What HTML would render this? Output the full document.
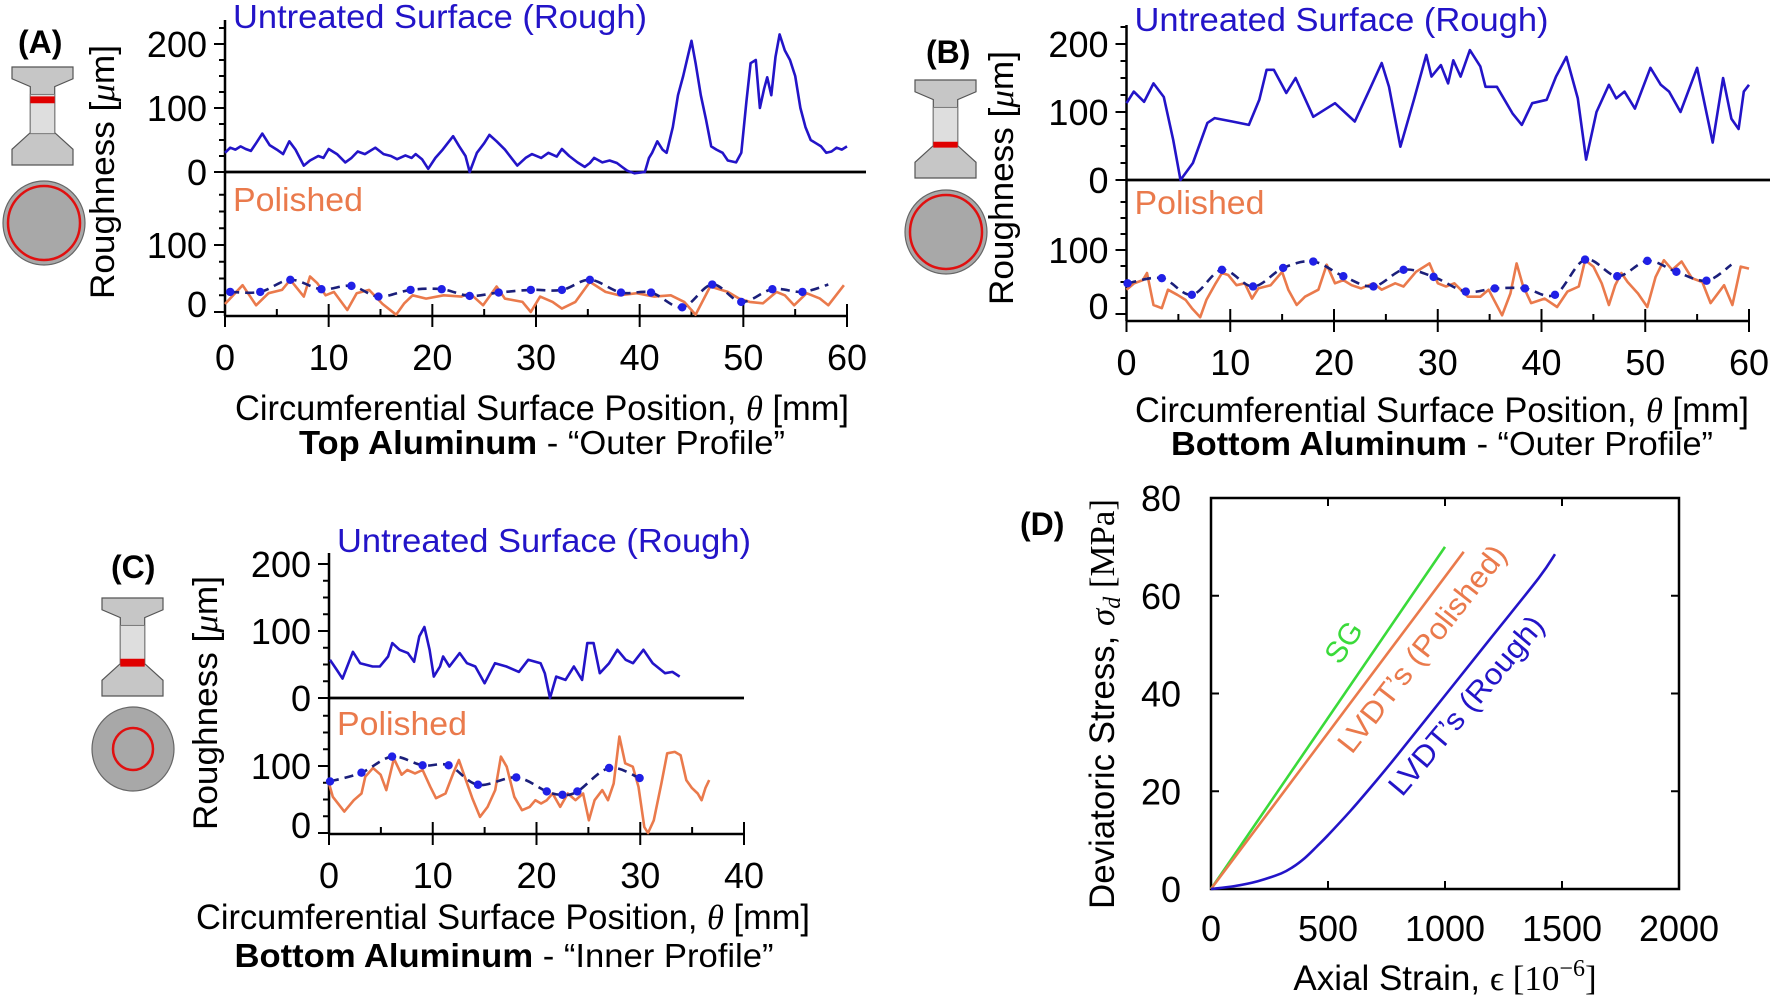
<!DOCTYPE html>
<html><head><meta charset="utf-8">
<style>
html,body{margin:0;padding:0;background:#fff;}
svg{display:block;font-family:"Liberation Sans",Arial,sans-serif;}
</style></head>
<body>
<svg id="fig" width="1770" height="1003" viewBox="0 0 1770 1003" xmlns="http://www.w3.org/2000/svg"></svg>
<script>
// ---------------- DATA ----------------
const xTicks60 = [0,10,20,30,40,50,60];
const xTicks40 = [0,10,20,30,40];
const upperTicks = [0,100,200];
const lowerTicks = [0,100];
const strainTicks = [0,500,1000,1500,2000];
const stressTicks = [0,20,40,60,80];

// Panel A
const aRoughPos = [0,0.5,1,1.5,2,2.5,3,3.6,4.3,5,5.6,6.2,6.8,7.6,8.2,9,9.5,10,10.8,11.6,12.2,12.8,13.5,14.5,15.3,16,16.6,17.4,18,18.4,19,19.6,20.3,21,22,22.6,23.2,23.6,24.3,25,25.5,26.2,27,28.2,29,29.6,30.5,31.2,32,32.5,33.2,34,34.7,35.2,35.6,36.4,37.1,37.8,38.3,38.8,39.5,40.5,40.9,41.2,41.7,42.2,42.6,43.2,43.7,44.2,44.6,45,45.4,45.9,46.4,46.9,47.4,48,48.5,49.3,49.8,50.3,50.7,51.2,51.6,52,52.3,52.7,53.1,53.5,54,54.5,55,55.5,56,56.5,57,57.5,58,58.5,59,59.5,60];
const aRoughVal = [30,38,35,40,36,33,45,60,42,35,28,48,35,10,18,25,22,36,28,15,22,32,28,38,28,25,20,26,22,28,20,5,22,35,56,40,25,0,30,45,58,48,35,10,22,28,22,30,24,36,25,15,8,14,22,15,18,14,8,2,-2,0,22,30,48,35,30,70,120,150,178,205,170,120,82,40,35,30,18,15,30,110,170,175,100,130,148,120,180,215,190,175,150,100,70,50,45,40,30,32,38,35,40];
const aPolPos = [0,1.7,3.0,4.2,5.5,6.3,7.6,8.2,8.9,9.7,10.5,11.8,12.7,13.9,15.2,16.5,17.3,18.1,19.4,21.1,22.8,23.6,24.9,26.2,27,28.7,29.5,30.4,31.6,32.5,33.8,35.2,36.7,38,39.7,41.4,43,44.3,45.4,46.8,48.5,49.6,50.6,51.9,53.2,54,54.9,56.1,57.4,58.2,59.7];
const aPolVal = [12,40,10,28,33,48,23,53,43,25,30,3,28,33,12,-4,13,25,20,25,23,28,10,38,20,15,0,23,15,5,15,45,30,25,28,23,25,15,-4,38,30,20,15,13,30,25,10,28,20,10,40];
const aAvgPos = [0.5,3.4,6.3,9.3,12.2,14.8,17.9,20.9,23.6,26.4,29.5,32.5,35.2,38.2,41.1,44.1,47,49.8,52.8,55.7,58.2];
const aAvgVal = [30,30,48,34,39,23,33,34,24,29,33,33,48,29,29,7,41,15,34,30,41];

// Panel B
const bRoughPos = [0,0.7,1.7,2.6,3.6,4.5,5.2,6.4,7.8,8.5,10.2,11.8,12.8,13.5,14.2,15.4,16.3,18.0,20.1,22.0,23.4,24.6,25.3,26.4,27.7,28.9,29.4,30.3,31.0,31.5,32.2,33.1,34.1,34.6,35.7,37.2,38.1,39.1,40.5,41.4,42.4,43.5,44.3,45.3,46.5,47.2,48,49,50.5,51.5,52.3,53.4,55,56.5,57.5,58.3,59,59.5,60];
const bRoughVal = [113,130,115,142,122,59,0,25,84,91,86,81,118,162,162,128,150,93,113,86,132,172,137,49,118,184,152,169,142,176,152,191,167,137,137,98,81,113,118,152,181,120,30,100,140,120,130,105,165,140,130,100,165,55,150,90,75,130,140];
const bPolPos = [0,0.74,1.57,1.98,2.6,3.4,4.0,4.9,5.7,6.3,7.1,7.7,8.6,9.2,9.8,10.6,11.4,12.1,12.7,13.9,15.0,15.6,16.4,17.2,18.5,19.3,20.1,20.9,21.7,22.6,23.8,24.6,25.9,26.7,27.9,29.2,30.0,30.8,31.6,32.9,34.1,34.9,36.2,37.0,37.6,38.2,39.0,40.3,41.5,42.5,43.6,44.2,45.0,45.8,46.5,47.1,47.7,48.3,49.3,50.2,51.0,51.8,52.6,53.5,54.5,55.5,56.3,57.6,58.4,59.2,60];
const bPolVal = [38,48,53,64,14,9,38,30,22,9,-5,22,48,64,61,45,48,24,40,45,66,38,14,27,38,77,48,53,45,40,48,38,48,43,66,79,48,43,48,27,27,38,-2,32,79,45,17,24,11,35,43,84,74,48,14,45,64,50,32,11,58,84,69,82,56,50,17,45,14,74,71];
const bAvgPos = [0.1,3.4,6.3,9.2,12.2,15.1,18.0,20.9,23.8,26.7,29.6,32.7,35.5,38.4,41.3,44.2,47.3,50.2,53.0,55.9,58.3];
const bAvgVal = [48,56,30,69,43,72,82,59,43,69,58,35,40,40,30,85,59,83,66,52,77];

// Panel C
const cRoughPos = [0.1,0.75,1.3,2.3,3.0,4.2,4.9,5.7,6.1,6.8,7.6,8.2,8.7,9.2,9.7,10.1,10.7,11.0,11.6,12.6,13.3,14.1,15.0,16.0,17.1,18.3,19.2,20.4,20.8,21.3,21.9,22.8,23.6,24.4,24.9,25.5,26.1,27.0,27.8,28.6,29.3,30.3,31.2,32.4,33.1,33.8];
const cRoughVal = [57,42,29,69,52,47,47,62,82,72,67,54,92,106,72,32,47,62,47,67,52,47,22,52,47,39,57,52,37,0,32,27,47,27,82,82,37,52,72,57,52,72,52,37,39,32];
const cPolPos = [0,0.37,1.47,2.39,3.13,3.5,4.24,4.97,5.52,6.26,7.0,7.55,8.29,9.02,9.76,10.31,11.23,11.97,12.52,13.08,13.81,14.55,15.29,16.02,16.57,17.13,17.86,18.6,19.34,19.89,20.44,20.99,21.55,22.28,23.02,23.76,24.49,25.05,25.6,26.34,26.89,27.44,27.99,28.55,29.28,29.83,30.39,30.75,31.31,32.04,32.6,33.33,33.89,34.44,34.99,35.54,35.91,36.28,36.65];
const cPolVal = [74,54,32,49,59,84,97,87,64,111,87,94,89,94,69,52,59,89,109,84,52,24,39,64,114,99,54,34,39,49,44,49,59,39,59,49,59,19,49,64,49,74,144,104,99,69,9,0,19,74,119,121,116,79,67,59,49,67,79];
const cAvgPos = [0.1,3.13,6.08,9.02,11.53,14.36,18.05,20.99,22.5,23.94,27.0,29.94];
const cAvgVal = [77,90,114,101,101,72,83,62,57,62,97,82];

// Panel D
const sgStrain = [0,1000];
const sgStress = [0,70];
const polStrain = [0,1080];
const polStress = [0,69];
const roughStrain = [0,100,200,300,350,400,450,500,600,700,800,1000,1200,1400,1470];
const roughStress = [0,0.6,1.6,3.2,4.5,6.3,8.6,11,16.2,21.8,27.6,39.6,51.6,63.6,68.5];

// ---------------- DRAWING ----------------
const NS = 'http://www.w3.org/2000/svg';
const svg = document.getElementById('fig');
function mk(tag, attrs, parent){
  const e = document.createElementNS(NS, tag);
  for (const k in attrs) e.setAttribute(k, attrs[k]);
  (parent || svg).appendChild(e);
  return e;
}
function lin(d0,d1,r0,r1){ return v => r0 + (v-d0)*(r1-r0)/(d1-d0); }

const BLUE = '#2314c8', ORANGE = '#ea7a4c', NAVY = '#1b1f7a', DOT = '#2020e6', GREEN = '#3ada3a';

function polyPath(xs, ys, sx, sy){
  let d = '';
  for (let i=0;i<xs.length;i++) d += (i?'L':'M') + sx(xs[i]).toFixed(1) + ' ' + sy(ys[i]).toFixed(1);
  return d;
}
function smoothPath(xs, ys, sx, sy){
  const P = xs.map((x,i)=>[sx(x), sy(ys[i])]);
  let d = 'M'+P[0][0].toFixed(1)+' '+P[0][1].toFixed(1);
  for (let i=0;i<P.length-1;i++){
    const p0=P[Math.max(i-1,0)], p1=P[i], p2=P[i+1], p3=P[Math.min(i+2,P.length-1)];
    const c1=[p1[0]+(p2[0]-p0[0])/6, p1[1]+(p2[1]-p0[1])/6];
    const c2=[p2[0]-(p3[0]-p1[0])/6, p2[1]-(p3[1]-p1[1])/6];
    d += 'C'+c1[0].toFixed(1)+' '+c1[1].toFixed(1)+' '+c2[0].toFixed(1)+' '+c2[1].toFixed(1)+' '+p2[0].toFixed(1)+' '+p2[1].toFixed(1);
  }
  return d;
}

function dogbone(g, x, y, w, h, b0, b1){
  const X = f => x + f*w, Y = f => y + f*h;
  const body = mk('polygon', {points:[[0,0],[1,0],[1,.12],[.7,.2],[.7,.67],[1,.84],[1,1],[0,1],[0,.84],[.3,.67],[.3,.2],[0,.12]].map(p=>X(p[0])+','+Y(p[1])).join(' '), fill:'#c6c6c6', stroke:'#555', 'stroke-width':1.2}, g);
  
  
  const neck = mk('rect', {x:X(.3), y:Y(.28), width:.4*w, height:.4*h, fill:'#dedede', stroke:'#777', 'stroke-width':1}, g);
  
  
  const band = mk('rect', {x:X(.3), y:Y(b0), width:.4*w, height:(b1-b0)*h, fill:'#e00000'}, g);
  
  
}
function disc(g, cx, cy, r, rr){
  const c = mk('ellipse', {cx:cx, cy:cy, rx:r, ry:r+1, fill:'#a8a8a8', stroke:'#666', 'stroke-width':1.2}, g);
  
  
  const ring = mk('ellipse', {cx:cx, cy:cy, rx:rr, ry:rr+1, fill:'none', stroke:'#e01010', 'stroke-width':2.5}, g);
  
  
}
function txt(g, x, y, s, attrs){
  const t = mk('text', Object.assign({x:x, y:y, fill:'#000'}, attrs||{}), g);
  t.textContent = s;
  return t;
}

function roughPanel(P){
  const g = mk('g', {});
  
  
  const {sx, syU, syL} = P;
  // letter
  const lt = txt(g, P.letter[0], P.letter[1], P.letter[2], {'font-size':32,'font-weight':'bold'});
  
  
  dogbone(g, P.bone[0], P.bone[1], 61, 98, P.bone[2], P.bone[3]);
  disc(g, P.disc[0], P.disc[1], 41, P.disc[2]);
  // y axis line
  const ya = mk('line', {x1:sx(0), x2:sx(0), y1:P.axTop, y2:P.axBot, stroke:'#000','stroke-width':2.5}, g);
  
  
  // upper ticks
  for (let v=0; v<=225; v+=25){
    const y = syU(v); if (y < P.axTop) continue;
    const tk = mk('line', {x1:sx(0)-(v%100===0?11:6), x2:sx(0), y1:y, y2:y, stroke:'#000','stroke-width':2}, g);
    
    
  }
  for (let v=0; v<=225; v+=25){
    const y = syL(v); if (y < syU(0)+8) continue;
    const tk = mk('line', {x1:sx(0)-(v%100===0?11:6), x2:sx(0), y1:y, y2:y, stroke:'#000','stroke-width':2}, g);
    
    
  }
  upperTicks.forEach(v=>{
    const t = txt(g, sx(0)-18, syU(v)+13, String(v), {'font-size':36,'text-anchor':'end'});
    
    
  });
  lowerTicks.forEach(v=>{
    const t = txt(g, sx(0)-18, syL(v)+13-(v===0?8:0), String(v), {'font-size':36,'text-anchor':'end'});
    
    
  });
  // zero line
  const zl = mk('line', {x1:sx(0), x2:P.zeroEnd, y1:syU(0), y2:syU(0), stroke:'#000','stroke-width':2.8}, g);
  
  
  // x axis
  const xmax = P.xt[P.xt.length-1];
  const xa = mk('line', {x1:sx(0), x2:sx(xmax), y1:P.axBot, y2:P.axBot, stroke:'#000','stroke-width':2.5}, g);
  
  
  for (let v=0; v<=xmax; v+=5){
    const major = v%10===0;
    const tk = mk('line', {x1:sx(v), x2:sx(v), y1:P.axBot-(major?12:7), y2:P.axBot+(major?11:0), stroke:'#000','stroke-width':2}, g);
    
    
  }
  P.xt.forEach(v=>{
    const t = txt(g, sx(v), P.axBot+54, String(v), {'font-size':36,'text-anchor':'middle'});
    
    
  });
  // y title
  const yt = mk('text', {x:0, y:0, 'font-size':34, 'text-anchor':'middle', transform:'translate('+P.ytitle[0]+','+P.ytitle[1]+') rotate(-90)', textLength:254, lengthAdjust:'spacingAndGlyphs'}, g);
  yt.innerHTML = 'Roughness [<tspan font-family="Liberation Serif, serif" font-style="italic">μ</tspan>m]';
  
  
  // x title
  const xtt = mk('text', {x:P.title[0], y:P.title[1], 'font-size':35, 'text-anchor':'middle', textLength:614, lengthAdjust:'spacingAndGlyphs'}, g);
  xtt.innerHTML = 'Circumferential Surface Position, <tspan font-family="Liberation Serif, serif" font-style="italic">θ</tspan> [mm]';
  
  
  const sub = mk('text', {x:P.sub[0], y:P.sub[1], 'font-size':33, 'text-anchor':'middle', textLength:P.sub[2], lengthAdjust:'spacingAndGlyphs'}, g);
  sub.innerHTML = '<tspan font-weight="bold">'+P.sub[3]+'</tspan> - “'+P.sub[4]+'”';
  
  
  // series labels
  const ul = txt(g, sx(0)+8, P.uLabelY, 'Untreated Surface (Rough)', {'font-size':33, fill:BLUE, textLength:414, lengthAdjust:'spacingAndGlyphs'});
  
  
  const pl = txt(g, sx(0)+8, P.pLabelY, 'Polished', {'font-size':33, fill:ORANGE, textLength:130, lengthAdjust:'spacingAndGlyphs'});
  
  
  // series
  const rl = mk('path', {d:polyPath(P.rPos, P.rVal, sx, syU), fill:'none', stroke:BLUE, 'stroke-width':2.6, 'stroke-linejoin':'round'}, g);
  
  
  const ol = mk('path', {d:polyPath(P.pPos, P.pVal, sx, syL), fill:'none', stroke:ORANGE, 'stroke-width':2.6, 'stroke-linejoin':'round'}, g);
  
  
  const dl = mk('path', {d:smoothPath(P.aPos, P.aVal, sx, syL), fill:'none', stroke:NAVY, 'stroke-width':2.6, 'stroke-dasharray':'9 6'}, g);
  
  
  const nd = P.aPos.length - (P.lastDot ? 0 : 1);
  for (let i=0;i<nd;i++){
    const c = mk('circle', {cx:sx(P.aPos[i]), cy:syL(P.aVal[i]), r:4.2, fill:DOT}, g);
    
    
  }
}

roughPanel({name:'panel-a', sx:lin(0,60,225,847), syU:lin(0,100,172,108), syL:lin(0,100,312,245),
  letter:[18,53,'(A)'], bone:[12,67,.30,.37], disc:[44,223,36], axTop:20, axBot:316, zeroEnd:866,
  xt:xTicks60, ytitle:[114,172], title:[542,420], sub:[542,454,486,'Top Aluminum','Outer Profile'],
  uLabelY:28, pLabelY:211, rPos:aRoughPos, rVal:aRoughVal, pPos:aPolPos, pVal:aPolVal, aPos:aAvgPos, aVal:aAvgVal, lastDot:false});
roughPanel({name:'panel-b', sx:lin(0,60,1126.5,1749), syU:lin(0,100,180,112), syL:lin(0,100,314,250),
  letter:[926,63,'(B)'], bone:[915,80,.63,.69], disc:[946,232,36], axTop:25, axBot:321, zeroEnd:1770,
  xt:xTicks60, ytitle:[1013,178], title:[1442,422], sub:[1442,455,542,'Bottom Aluminum','Outer Profile'],
  uLabelY:31, pLabelY:214, rPos:bRoughPos, rVal:bRoughVal, pPos:bPolPos, pVal:bPolVal, aPos:bAvgPos, aVal:bAvgVal, lastDot:false});
roughPanel({name:'panel-c', sx:lin(0,40,329,744), syU:lin(0,100,698,631), syL:lin(0,100,833,766),
  letter:[111,578,'(C)'], bone:[102,598,.62,.70], disc:[133,749,20], axTop:553, axBot:834, zeroEnd:744,
  xt:xTicks40, ytitle:[217,703], title:[503,929], sub:[504,967,539,'Bottom Aluminum','Inner Profile'],
  uLabelY:552, pLabelY:735, rPos:cRoughPos, rVal:cRoughVal, pPos:cPolPos, pVal:cPolVal, aPos:cAvgPos, aVal:cAvgVal, lastDot:true});

// Panel D
(function(){
  const g = mk('g', {});
  
  
  const sx = lin(0,2000,1211,1679), sy = lin(0,80,889,498);
  const lt = txt(g, 1020, 535, '(D)', {'font-size':32,'font-weight':'bold'});
  
  
  const box = mk('rect', {x:sx(0), y:sy(80), width:sx(2000)-sx(0), height:sy(0)-sy(80), fill:'none', stroke:'#000','stroke-width':2.5}, g);
  
  
  strainTicks.forEach(v=>{
    const t1 = mk('line', {x1:sx(v), x2:sx(v), y1:sy(0), y2:sy(0)-8, stroke:'#000','stroke-width':2}, g);
    
    
    const t2 = mk('line', {x1:sx(v), x2:sx(v), y1:sy(80), y2:sy(80)+8, stroke:'#000','stroke-width':2}, g);
    
    
    const t = txt(g, sx(v), 941, String(v), {'font-size':36,'text-anchor':'middle'});
    
    
  });
  stressTicks.forEach(v=>{
    const t1 = mk('line', {x1:sx(0), x2:sx(0)+8, y1:sy(v), y2:sy(v), stroke:'#000','stroke-width':2}, g);
    
    
    const t2 = mk('line', {x1:sx(2000), x2:sx(2000)-8, y1:sy(v), y2:sy(v), stroke:'#000','stroke-width':2}, g);
    
    
    const t = txt(g, 1181, sy(v)+13, String(v), {'font-size':36,'text-anchor':'end'});
    
    
  });
  const xt = mk('text', {x:1445, y:990, 'font-size':35, 'text-anchor':'middle'}, g);
  xt.innerHTML = 'Axial Strain, <tspan font-family="Liberation Serif, serif">ϵ [10</tspan><tspan font-family="Liberation Serif, serif" font-size="24" dy="-14">−6</tspan><tspan font-family="Liberation Serif, serif" dy="14">]</tspan>';
  
  
  const yt = mk('text', {x:0, y:0, 'font-size':35, 'text-anchor':'middle', transform:'translate(1114,704) rotate(-90)', textLength:410, lengthAdjust:'spacingAndGlyphs'}, g);
  yt.innerHTML = 'Deviatoric Stress,  <tspan font-family="Liberation Serif, serif" font-style="italic">σ<tspan font-size="24" dy="6">d</tspan></tspan><tspan dy="-6" font-family="Liberation Serif, serif"> [MPa]</tspan>';
  
  
  const l1 = mk('path', {d:polyPath(sgStrain, sgStress, sx, sy), fill:'none', stroke:GREEN, 'stroke-width':2.6}, g);
  
  
  const l2 = mk('path', {d:polyPath(polStrain, polStress, sx, sy), fill:'none', stroke:ORANGE, 'stroke-width':2.6}, g);
  
  
  const l3 = mk('path', {d:smoothPath(roughStrain, roughStress, sx, sy), fill:'none', stroke:BLUE, 'stroke-width':2.6}, g);
  
  
  const a1 = txt(g, 0, 0, 'SG', {'font-size':30, fill:GREEN, 'text-anchor':'middle', transform:'translate(1352,648) rotate(-55.8)'});
  
  
  const a2 = txt(g, 0, 0, 'LVDT’s (Polished)', {'font-size':30, fill:ORANGE, 'text-anchor':'middle', transform:'translate(1430,655) rotate(-52)', textLength:254, lengthAdjust:'spacingAndGlyphs'});
  
  
  const a3 = txt(g, 0, 0, 'LVDT’s (Rough)', {'font-size':30, fill:BLUE, 'text-anchor':'middle', transform:'translate(1474,712) rotate(-50)', textLength:224, lengthAdjust:'spacingAndGlyphs'});
  
  
})();
</script>
</body></html>
